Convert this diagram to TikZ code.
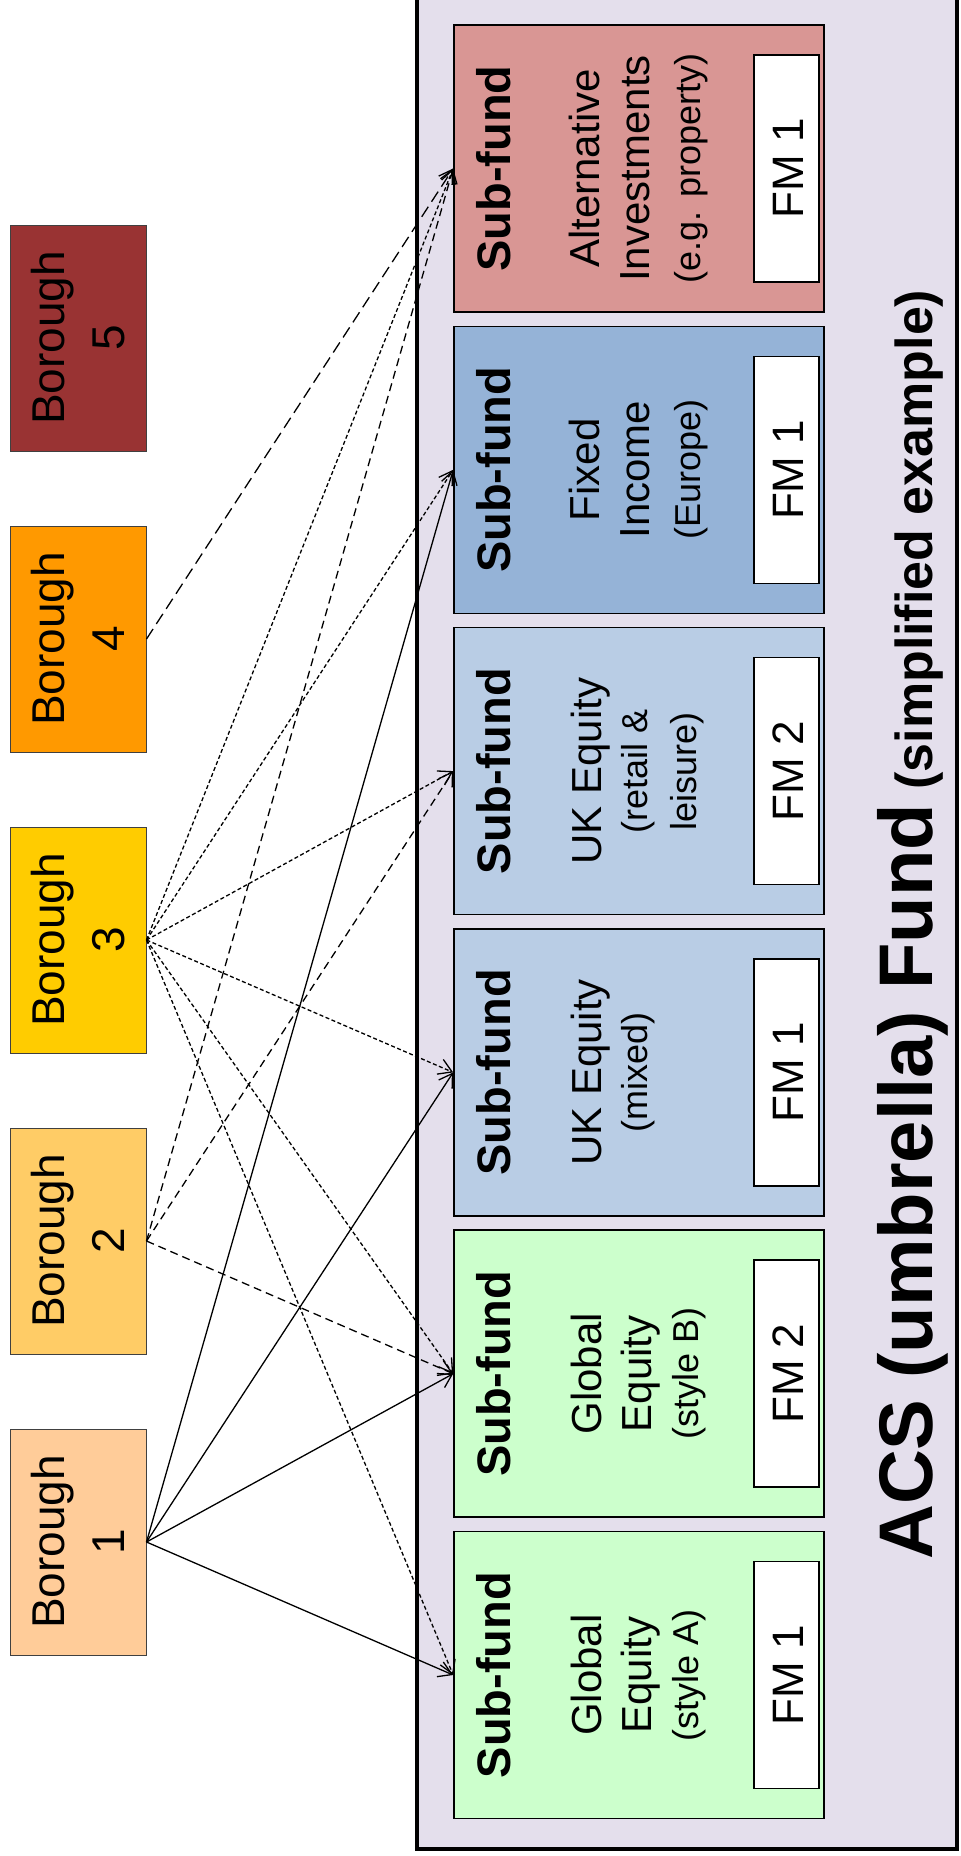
\documentclass[tikz,border=0pt]{standalone}
\usepackage{fontspec}
\setmainfont{Liberation Sans}
\usetikzlibrary{arrows.meta}
\definecolor{framebg}{HTML}{E4DFEC}
\definecolor{altc}{HTML}{D99694}
\definecolor{fic}{HTML}{95B3D7}
\definecolor{ukc}{HTML}{B9CDE5}
\definecolor{glc}{HTML}{CCFFCC}
\definecolor{boroA}{HTML}{FFCC99}
\definecolor{boroB}{HTML}{FFCC66}
\definecolor{boroC}{HTML}{FFCC00}
\definecolor{boroD}{HTML}{FF9900}
\definecolor{boroE}{HTML}{993333}
\begin{document}
\begin{tikzpicture}[x=1pt,y=-1pt,
  borobox/.style={draw=black!75, line width=1pt, minimum width=136pt, minimum height=226pt, inner sep=0pt},
  borotext/.style={rotate=90, align=center, inner sep=0pt, font=\fontsize{46}{60}\selectfont},
  sfbox/.style={draw=black, line width=1.6pt, minimum width=370pt, minimum height=287pt, inner sep=0pt},
  fmbox/.style={draw=black, line width=1.6pt, fill=white, minimum width=65pt, minimum height=227pt, inner sep=0pt},
  sftitle/.style={rotate=90, anchor=base, inner sep=0pt, font=\fontsize{47}{56}\selectfont\bfseries},
  bigline/.style={rotate=90, anchor=base, inner sep=0pt, font=\fontsize{42}{50}\selectfont},
  smallline/.style={rotate=90, anchor=base, inner sep=0pt, font=\fontsize{36}{44}\selectfont},
  fmtext/.style={rotate=90, anchor=base, inner sep=0pt, font=\fontsize{44}{50}\selectfont},
  conn/.style={line width=1.3pt, -{Straight Barb[length=13pt,width=16pt,line width=1.3pt]}},
  solidc/.style={conn},
  dashc/.style={conn, dash pattern=on 8pt off 5pt},
  dotc/.style={conn, dash pattern=on 4pt off 2.5pt},
  longc/.style={conn, dash pattern=on 12pt off 6pt}]
\useasboundingbox (0,0) rectangle (961,1856);
\clip (0,0) rectangle (961,1856);
\fill[white] (0,0) rectangle (961,1856);
% umbrella frame
\node[draw=black, line width=4.5pt, fill=framebg, minimum width=540pt, minimum height=1879pt, inner sep=0pt] (frame) at (687,909.5) {};
% title
\node[rotate=90, anchor=base west, inner sep=0pt] (title) at (932,1560)
  {{\fontsize{76}{80}\selectfont\bfseries ACS (umbrella) Fund}{\fontsize{52}{60}\selectfont\bfseries\ (simplified example)}};
% boroughs
\node[borobox, fill=boroA] (b1) at (78,1542) {};
\node[borotext] (b1t) at (b1.center) {Borough\\1};
\node[borobox, fill=boroB] (b2) at (78,1241) {};
\node[borotext] (b2t) at (b2.center) {Borough\\2};
\node[borobox, fill=boroC] (b3) at (78,940) {};
\node[borotext] (b3t) at (b3.center) {Borough\\3};
\node[borobox, fill=boroD] (b4) at (78,639) {};
\node[borotext] (b4t) at (b4.center) {Borough\\4};
\node[borobox, fill=boroE] (b5) at (78,338) {};
\node[borotext] (b5t) at (b5.center) {Borough\\5};
% sub-fund: Global Equity (style A)
\node[sfbox, fill=glc] (ga) at (639,1675) {};
\node[sftitle] (gat) at (510,1675) {Sub-fund};
\node[bigline] (ga1) at (601,1675) {Global};
\node[bigline] (ga2) at (651,1675) {Equity};
\node[smallline] (ga3) at (698,1675) {(style A)};
\node[fmbox] (gafm) at (786.5,1675) {};
\node[fmtext] (gafmt) at (803,1675) {FM 1};
% sub-fund: Global Equity (style B)
\node[sfbox, fill=glc] (gb) at (639,1373.7) {};
\node[sftitle] (gbt) at (510,1373.7) {Sub-fund};
\node[bigline] (gb1) at (601,1373.7) {Global};
\node[bigline] (gb2) at (651,1373.7) {Equity};
\node[smallline] (gb3) at (698,1373.7) {(style B)};
\node[fmbox] (gbfm) at (786.5,1373.7) {};
\node[fmtext] (gbfmt) at (803,1373.7) {FM 2};
% sub-fund: UK Equity (mixed)
\node[sfbox, fill=ukc] (ukm) at (639,1072.4) {};
\node[sftitle] (ukmt) at (510,1072.4) {Sub-fund};
\node[bigline] (ukm1) at (601,1072.4) {UK Equity};
\node[smallline] (ukm2) at (647,1072.4) {(mixed)};
\node[fmbox] (ukmfm) at (786.5,1072.4) {};
\node[fmtext] (ukmfmt) at (803,1072.4) {FM 1};
% sub-fund: UK Equity (retail & leisure)
\node[sfbox, fill=ukc] (ukr) at (639,771.1) {};
\node[sftitle] (ukrt) at (510,771.1) {Sub-fund};
\node[bigline] (ukr1) at (601,771.1) {UK Equity};
\node[smallline] (ukr2) at (647,771.1) {(retail \&};
\node[smallline] (ukr3) at (696,771.1) {leisure)};
\node[fmbox] (ukrfm) at (786.5,771.1) {};
\node[fmtext] (ukrfmt) at (803,771.1) {FM 2};
% sub-fund: Fixed Income (Europe)
\node[sfbox, fill=fic] (fi) at (639,469.8) {};
\node[sftitle] (fit) at (510,469.8) {Sub-fund};
\node[bigline] (fi1) at (599,469.8) {Fixed};
\node[bigline] (fi2) at (649,469.8) {Income};
\node[smallline] (fi3) at (700,469.8) {(Europe)};
\node[fmbox] (fifm) at (786.5,469.8) {};
\node[fmtext] (fifmt) at (803,469.8) {FM 1};
% sub-fund: Alternative Investments
\node[sfbox, fill=altc] (alt) at (639,168.5) {};
\node[sftitle] (altt) at (510,168.5) {Sub-fund};
\node[bigline] (alt1) at (599,168.5) {Alternative};
\node[bigline] (alt2) at (649,168.5) {Investments};
\node[smallline] (alt3) at (700,168.5) {(e.g. property)};
\node[fmbox] (altfm) at (786.5,168.5) {};
\node[fmtext] (altfmt) at (803,168.5) {FM 1};
% connectors: Borough 1
\draw[solidc] (b1.east) -- (ga.west);
\draw[solidc] (b1.east) -- (gb.west);
\draw[solidc] (b1.east) -- (ukm.west);
\draw[solidc] (b1.east) -- (fi.west);
% Borough 2
\draw[dashc] (b2.east) -- (gb.west);
\draw[dashc] (b2.east) -- (ukr.west);
\draw[dashc] (b2.east) -- (alt.west);
% Borough 3
\draw[dotc] (b3.east) -- (ga.west);
\draw[dotc] (b3.east) -- (gb.west);
\draw[dotc] (b3.east) -- (ukm.west);
\draw[dotc] (b3.east) -- (ukr.west);
\draw[dotc] (b3.east) -- (fi.west);
\draw[dotc] (b3.east) -- (alt.west);
% Borough 4
\draw[longc] (b4.east) -- (alt.west);
\end{tikzpicture}
\end{document}
